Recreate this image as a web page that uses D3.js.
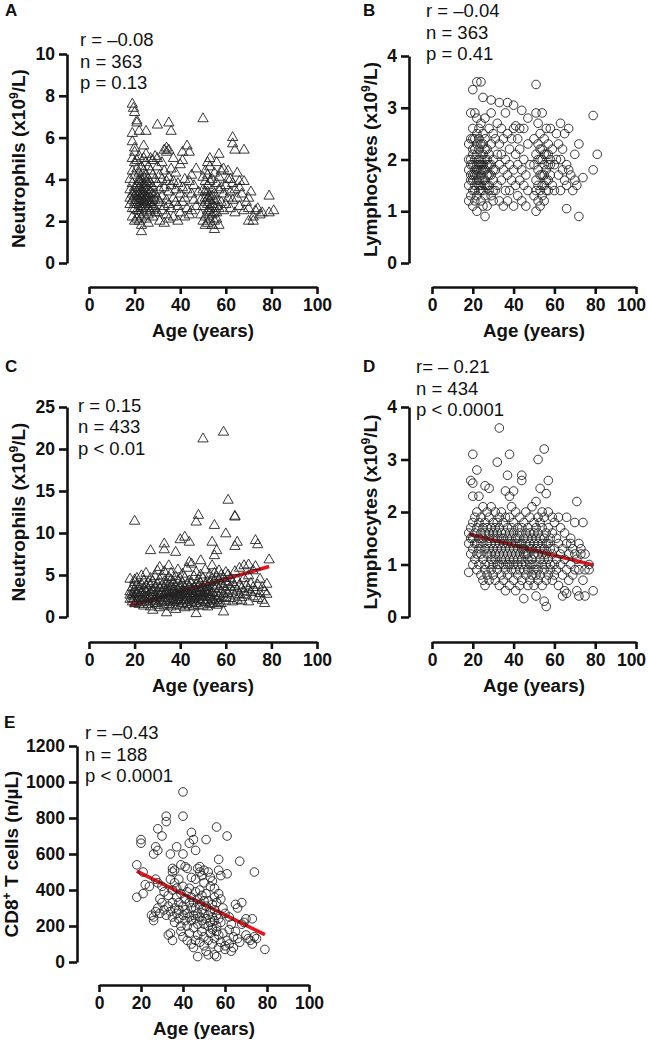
<!DOCTYPE html>
<html>
<head>
<meta charset="utf-8">
<script src="https://cdn.jsdelivr.net/npm/d3@7"></script>
<style>
body { margin: 0; background: #fff; }
text { font-family: "Liberation Sans", Arial, Helvetica, sans-serif; fill: #111; }
</style>
</head>
<body>
<script>
// tick labels
const ageTicks = [0, 20, 40, 60, 80, 100];
const neutroTicksA = [0, 2, 4, 6, 8, 10];
const lymphTicks = [0, 1, 2, 3, 4];
const neutroTicksC = [0, 5, 10, 15, 20, 25];
const cd8Ticks = [0, 200, 400, 600, 800, 1000, 1200];

// stats text per panel
const statsA = ['r = \u20130.08', 'n = 363', 'p = 0.13'];
const statsB = ['r = \u20130.04', 'n = 363', 'p = 0.41'];
const statsC = ['r = 0.15', 'n = 433', 'p < 0.01'];
const statsD = ['r= \u2013 0.21', 'n = 434', 'p < 0.0001'];
const statsE = ['r = \u20130.43', 'n = 188', 'p < 0.0001'];

// A: age vs neutrophils (x10^9/L)
const neutrophilsA = [
  [19,7.6],[19.5,7.4],[20,7.2],[21,6.8],[21,6.7],[22,6.3],[19,6.2],[25,6.3],[30,6.6],[35,6.7],[36,6.3],[50,6.9],
  [63,6.0],[63,5.7],[64,5.4],[68,5.4],[19,5.8],[20,5.5],[24,5.6],[33,5.4],[34,5.5],[35,5.4],[43,5.6],[44,5.3],
  [41,5.3],[57,5.2],[53,5.0],[52,4.8],[56,4.8],[59,4.5],[61,4.4],[65,4.3],[62,4.0],[66,3.9],[79,3.2],[79,2.4],
  [81,2.5],[75,2.3],[73,2.5],[70,2.0],[72,2.0],[69,2.9],[70,3.1],[23,1.5],[55,1.6],[54,1.8],[51,1.8],[57,1.8],
  [18,3.5],[18,2.8],[18,4.0],[18,3.1],[19,2.6],[19,3.3],[19,4.4],[19,5.0],[19,2.2],[19,3.8],[20,2.9],[20,3.6],
  [20,4.8],[20,2.0],[20,3.2],[20,4.2],[20,5.3],[21,2.5],[21,3.0],[21,3.7],[21,4.5],[21,2.1],[21,3.4],[21,4.9],
  [22,2.3],[22,2.8],[22,3.3],[22,3.9],[22,4.3],[22,5.1],[22,2.0],[22,3.6],[23,2.6],[23,3.1],[23,3.5],[23,4.0],
  [23,4.6],[23,2.2],[23,2.9],[23,1.8],[24,2.4],[24,3.0],[24,3.4],[24,3.8],[24,4.4],[24,5.0],[24,2.7],[24,4.1],
  [25,2.1],[25,2.6],[25,3.2],[25,3.7],[25,4.2],[25,4.8],[25,3.0],[25,5.2],[26,2.3],[26,2.9],[26,3.5],[26,4.0],
  [26,4.6],[26,1.9],[26,3.3],[27,2.5],[27,3.1],[27,3.8],[27,4.4],[27,5.0],[27,2.8],[28,2.2],[28,3.0],[28,3.6],
  [28,4.2],[28,4.9],[29,2.6],[29,3.3],[29,4.0],[29,5.1],[30,2.4],[30,3.1],[30,3.8],[30,4.6],[30,5.0],
  [19,3.0],[20,3.4],[20,2.6],[21,3.2],[21,2.8],[22,3.0],[22,2.5],[22,4.0],[23,3.3],[23,3.8],[23,2.7],[24,3.2],
  [24,2.9],[24,3.6],[25,3.5],[25,2.8],[25,3.9],[26,3.1],[26,2.6],[26,3.8],[27,3.4],[27,2.9],[28,3.3],[28,2.7],
  [29,3.0],[29,2.4],
  [31,2.0],[31,2.9],[31,3.5],[31,4.2],[32,2.5],[32,3.2],[32,4.0],[32,4.8],[33,1.9],[33,2.7],[33,3.6],[33,4.4],
  [34,2.3],[34,3.0],[34,3.9],[34,5.3],[35,2.1],[35,2.8],[35,3.4],[35,4.1],[36,2.6],[36,3.7],[36,4.5],[37,2.2],
  [37,3.1],[37,3.9],[37,5.0],[38,2.9],[38,3.5],[38,4.3],[39,2.0],[39,2.7],[39,3.8],[40,2.4],[40,3.3],[40,4.7],
  [41,2.9],[41,3.6],[41,4.9],[42,2.2],[42,3.1],[42,4.0],[43,2.6],[43,3.5],[44,2.3],[44,3.9],[45,2.5],[45,3.3],
  [45,4.2],[46,3.0],[46,3.7],[47,2.7],[47,4.5],[48,3.4],
  [49,2.3],[49,3.0],[50,2.0],[50,2.7],[50,3.5],[50,4.1],[51,2.2],[51,2.9],[51,3.4],[51,3.9],[51,4.4],[52,1.9],
  [52,2.5],[52,3.1],[52,3.7],[52,4.2],[53,2.1],[53,2.6],[53,3.2],[53,3.9],[53,4.6],[54,2.3],[54,2.8],[54,3.5],
  [54,4.0],[55,2.0],[55,2.7],[55,3.3],[55,4.3],[56,2.4],[56,3.0],[56,3.8],[56,2.1],[57,2.6],[57,3.5],[57,4.1],
  [58,2.9],[58,3.6],[58,4.4],
  [51,3.1],[52,2.8],[52,3.4],[53,2.4],[53,3.0],[54,2.6],[54,3.2],[55,2.4],[55,3.0],[56,2.7],
  [59,2.5],[59,3.3],[60,3.7],[60,2.8],[61,3.1],[61,4.0],[62,2.6],[62,3.4],[63,3.0],[63,3.8],[64,2.4],[64,3.5],
  [65,3.1],[66,2.7],[66,3.6],[67,3.3],[68,2.5],[68,3.9],[70,2.6],[71,3.4],[72,2.2],[74,2.6],[76,2.4]
];

// B: age vs lymphocytes (x10^9/L)
const lymphocytesB = [
  [20,3.35],[22,3.5],[24,3.5],[25,3.2],[51,3.45],[79,2.85],[81,2.1],[79,1.8],[72,0.9],[66,1.05],[26,0.9],
  [29,3.15],[33,3.1],[37,3.1],[40,3.05],[44,2.95],[43,2.6],[41,2.65],[47,2.8],
  [18,1.8],[18,2.3],[18,1.5],[19,2.0],[19,1.3],[19,2.4],[19,1.7],[19,2.9],[20,1.9],[20,2.2],[20,1.4],[20,1.1],
  [20,2.6],[20,1.6],[21,2.0],[21,1.8],[21,2.4],[21,1.2],[21,1.5],[21,2.9],[22,1.7],[22,2.1],[22,1.3],[22,2.3],
  [22,1.9],[22,1.0],[22,2.8],[23,1.6],[23,2.0],[23,2.4],[23,1.4],[23,1.8],[23,2.2],[24,1.5],[24,1.9],[24,2.3],
  [24,1.2],[24,2.7],[24,1.7],[25,1.8],[25,2.1],[25,1.4],[25,2.5],[25,1.1],[26,1.6],[26,2.0],[26,2.4],[26,1.3],
  [26,2.8],[27,1.9],[27,1.5],[27,2.2],[27,1.1],[28,1.7],[28,2.1],[28,2.6],[28,1.4],[29,1.9],[29,2.3],[29,1.3],
  [29,2.9],[30,1.6],[30,2.0],[30,2.5],[30,1.2],
  [18,2.0],[18,1.2],[19,1.9],[19,1.6],[20,2.1],[20,1.7],[20,2.4],[21,1.7],[21,2.2],[21,1.4],[22,1.6],[22,2.5],
  [22,1.8],[23,1.9],[23,1.5],[23,2.6],[24,2.0],[24,1.4],[24,1.8],[25,1.6],[25,2.3],[25,1.9],[26,1.8],[26,1.5],
  [26,2.2],[27,1.7],[27,2.0],[28,1.9],[28,1.5],[29,1.7],[30,1.8],[30,1.4],
  [31,1.8],[31,2.4],[31,1.4],[32,2.1],[32,1.5],[32,2.7],[33,1.2],[33,1.9],[33,2.3],[34,1.6],[34,2.1],[34,2.6],
  [35,1.1],[35,1.8],[35,2.4],[36,1.4],[36,2.0],[36,2.9],[37,1.2],[37,1.7],[37,2.5],[38,1.9],[38,1.4],[38,2.2],
  [39,1.6],[39,2.4],[40,1.1],[40,1.8],[40,2.6],[41,1.5],[41,2.1],[42,1.3],[42,1.9],[42,2.4],[43,1.6],[43,2.2],
  [44,1.2],[44,1.8],[45,1.5],[45,2.0],[45,2.6],[46,1.1],[46,1.7],[47,2.3],[47,1.4],[48,1.9],
  [50,1.3],[50,1.9],[50,2.4],[51,1.0],[51,1.6],[51,2.1],[51,2.9],[52,1.2],[52,1.5],[52,1.8],[52,2.3],[52,2.7],
  [53,1.4],[53,2.0],[53,2.5],[53,1.1],[54,1.3],[54,1.7],[54,2.2],[54,2.9],[55,1.5],[55,1.9],[55,2.4],[55,1.2],
  [56,1.6],[56,2.1],[56,2.6],[57,1.4],[57,1.9],[57,2.3],[58,1.7],[58,2.0],[58,2.6],
  [51,1.4],[52,2.0],[53,1.7],[53,2.2],[54,1.5],[54,2.0],[55,1.7],[55,2.1],[56,1.8],[56,1.4],[57,2.1],[57,1.6],
  [58,1.9],
  [59,1.5],[59,2.2],[60,1.9],[60,1.4],[61,2.0],[61,2.5],[62,1.7],[62,2.3],[63,1.4],[63,2.0],[63,2.7],[64,1.8],
  [64,2.2],[65,1.6],[65,2.5],[66,1.9],[66,1.5],[67,1.8],[67,2.6],[68,1.7],[69,1.4],[70,1.6],[70,2.1],[71,1.5],
  [72,2.3],[74,1.65]
];

// C: age vs neutrophils, grouped by age [age, [values]]
const neutrophilsC = [
  [18,[2.1,3.0,4.5,2.6]],[19,[1.8,2.7,3.5,2.2]],[20,[2.4,3.3,4.1,1.6,2.9,11.4,4.4]],[21,[1.9,2.8,3.8,4.6]],
  [22,[2.2,3.1,1.5,3.6,2.6]],[23,[2.9,1.7,3.9,4.9,2.3]],[24,[2.0,2.7,3.4,1.3,4.3]],[25,[3.1,2.4,1.8,3.7,5.2]],
  [26,[2.6,1.5,3.3,4.0,2.1]],[27,[2.2,2.9,3.8,1.2,4.6,7.9]],[28,[1.8,2.5,3.2,4.2,0.8,2.9]],[29,[2.4,3.5,1.6,4.8,2.0]],
  [30,[2.7,1.4,3.1,3.9,5.5,2.2]],[31,[1.9,2.6,3.4,4.4,1.1,5.9]],[32,[2.3,3.0,1.7,3.7,4.9,2.8]],
  [33,[2.0,2.7,3.5,1.3,4.2,5.4,8.7,8.0]],[34,[2.5,1.8,3.2,4.0,0.5,2.9]],[35,[2.2,3.0,1.5,3.8,4.7,2.6,6.1]],
  [36,[1.9,2.8,3.6,1.2,4.4,5.2]],[37,[2.4,3.3,1.7,4.1,2.0,2.9]],[38,[2.1,2.7,3.5,1.4,4.8,3.0,0.9,7.7]],
  [39,[2.6,1.9,3.2,4.3,5.6,2.3]],[40,[2.0,2.9,3.7,1.3,4.5,2.5,3.3,9.2]],[41,[2.3,3.1,1.6,4.0,5.1,2.7]],
  [42,[1.8,2.6,3.4,1.1,4.6,3.0,9.5]],[43,[2.4,3.2,1.5,3.9,5.8,2.1,2.8]],[44,[2.0,2.8,3.6,1.3,4.3,6.5,8.9]],
  [45,[2.5,3.3,1.7,4.1,2.2,3.0,6.3]],[46,[1.9,2.7,3.5,1.2,4.8,2.4]],[47,[2.3,3.1,1.6,3.8,5.3,0.4,2.8,11.3]],
  [48,[2.1,2.9,3.7,1.4,4.4,2.5,12.1]],[49,[2.6,3.4,1.8,4.0,5.0,3.0,6.7]],[50,[2.0,2.8,3.5,1.3,4.6,2.4,21.2]],
  [51,[2.4,3.2,1.7,3.9,5.6,2.9]],[52,[1.9,2.7,3.6,1.2,4.2,3.1]],[53,[2.3,3.0,1.5,4.1,5.0,2.6]],
  [54,[2.1,2.9,3.8,1.6,4.5,6.1,8.9]],[55,[2.5,3.4,1.9,4.3,5.2,7.3,10.9]],[56,[2.0,2.8,3.6,1.4,4.8,7.9]],
  [57,[2.4,3.3,4.4,1.7,5.5]],[58,[2.2,3.0,3.9,5.0,1.6]],[59,[2.7,3.6,4.6,0.6,22.0]],[60,[2.3,3.2,4.2,5.3,1.9,9.9]],
  [61,[2.8,3.9,5.0,13.9]],[62,[2.2,3.5,4.6]],[63,[3.0,4.1,1.8]],[64,[2.5,3.6,5.4,11.9,12.0,8.4]],
  [65,[3.2,2.0,4.4,8.9]],[66,[2.7,3.8,5.8]],[67,[2.3,3.4,1.9]],[68,[3.0,4.6,6.1]],[69,[2.6,3.7]],
  [70,[1.8,3.3,4.9,6.2]],[71,[2.9,4.0]],[72,[2.4,3.5,5.5]],[73,[3.1,6.0,9.1]],[74,[2.2,3.8,8.6]],
  [75,[2.8,4.5]],[76,[3.5,2.0]],[77,[1.6,3.0]],[78,[2.7,3.9]],[79,[6.8]]
];

// D: age vs lymphocytes, grouped by age
const lymphocytesD = [
  [18,[1.4,1.6,0.85]],[19,[1.2,1.5,1.7,2.6]],[20,[1.0,1.3,1.8,1.5,3.1,2.55,2.3]],[21,[1.4,1.1,1.9,1.6]],
  [22,[1.2,0.9,1.7,1.4,2.0,2.8]],[23,[1.5,1.0,1.3,1.8,2.3]],[24,[0.8,1.2,1.6,1.4,1.9]],[25,[1.1,1.5,1.7,0.7,2.1]],
  [26,[1.3,0.9,1.8,1.0,1.6,0.6,2.5]],[27,[1.4,1.2,1.7,0.8,2.0]],[28,[1.0,1.5,1.3,1.9,0.7,1.6,2.45]],
  [29,[1.2,0.9,1.7,1.4,1.1,2.1]],[30,[1.5,1.0,1.8,1.3,0.8,1.6]],[31,[1.1,1.4,0.7,1.7,1.2,2.0]],
  [32,[1.3,0.9,1.6,1.0,1.5,1.8,2.95]],[33,[1.2,1.4,0.6,1.7,1.0,1.9,3.6]],[34,[1.5,1.1,0.8,1.3,1.6,2.0]],
  [35,[1.0,1.4,1.2,0.7,1.8,1.5]],[36,[1.3,0.9,1.6,1.1,1.9,0.5,2.4]],[37,[1.2,1.5,0.8,1.4,1.7,1.0,2.7]],
  [38,[1.0,1.3,1.6,0.6,1.9,1.1,3.1,2.3]],[39,[1.4,0.9,1.2,1.7,1.5,2.1]],[40,[1.1,1.3,0.7,1.6,1.0,1.8,2.4]],
  [41,[1.2,1.5,0.9,1.4,2.0,0.5]],[42,[1.0,1.3,1.7,0.8,1.5,1.1]],[43,[1.2,0.9,1.6,1.4,1.9,0.6]],
  [44,[1.1,1.4,0.7,1.3,1.7,1.0,2.7,2.6]],[45,[1.3,0.9,1.5,1.2,1.8,0.35]],[46,[1.0,1.4,1.6,0.8,1.2,2.0]],
  [47,[1.2,0.9,1.5,1.1,1.7,0.6]],[48,[1.4,1.0,1.3,0.7,1.9,1.6]],[49,[1.1,1.3,0.8,1.5,1.0,2.1]],
  [50,[1.2,0.9,1.6,1.4,0.6,1.8]],[51,[1.0,1.3,1.7,0.8,1.5,2.2,0.4]],[52,[1.2,0.9,1.4,1.6,0.7,1.9,3.0]],
  [53,[1.1,1.3,0.8,1.5,1.8,2.45]],[54,[1.0,1.4,0.6,1.2,1.7,2.0]],[55,[1.3,0.9,1.5,1.1,1.9,3.2,0.3]],
  [56,[1.0,1.2,0.7,1.6,1.4,2.35,0.2]],[57,[1.1,0.8,1.4,1.7,2.0,2.6]],[58,[1.3,0.9,1.5,1.0]],[59,[1.2,0.7,1.6,1.9]],
  [60,[1.0,1.3,0.8,1.8]],[61,[1.1,1.5,0.9]],[62,[1.4,0.6,1.9]],[63,[1.0,1.2,1.7]],[64,[0.8,1.3,0.4]],
  [65,[1.1,1.6,0.5]],[66,[1.4,0.9,1.9,0.45]],[67,[1.2,0.7]],[68,[1.0,1.5,1.4]],[69,[0.8,1.3]],[70,[1.2,0.9,1.8]],
  [71,[1.1,0.5,2.2]],[72,[1.4,0.9,0.4]],[73,[1.2,1.3]],[74,[0.7,1.8]],[75,[0.9,1.2,0.4]],[77,[0.9,1.0]],[79,[0.5]]
];

// E: age vs CD8+ T cells (n/uL)
const cd8E = [
  [18,540],[18,360],[20,680],[20,660],[21,380],[21,500],[26,600],[27,640],[28,740],[28,620],[30,700],[32,780],
  [32,810],[34,600],[35,500],[35,520],[36,510],[37,640],[39,540],[40,945],[40,810],[40,600],[41,530],[42,520],
  [43,660],[44,720],[45,680],[46,620],[47,520],[48,500],[48,530],[49,480],[50,510],[51,680],[52,500],[53,470],
  [54,450],[56,750],[57,570],[57,510],[58,480],[61,700],[61,490],[67,560],[74,500],[44,470],[46,460],[50,440],
  [55,410],[38,460],[36,440],
  [22,430],[24,420],[25,260],[26,230],[26,250],[27,280],[27,460],[28,300],[28,440],[29,350],[29,270],[30,330],
  [30,420],[31,390],[31,290],[32,260],[33,310],[33,370],[34,280],[34,460],[35,250],[35,330],[35,400],[36,300],
  [36,220],[37,270],[37,360],[37,410],[38,290],[38,240],[38,330],[39,200],[39,380],[40,260],[40,310],[40,420],
  [41,230],[41,350],[41,290],[42,270],[42,390],[42,200],[43,250],[43,330],[43,410],[44,230],[44,300],[44,360],
  [45,260],[45,190],[45,330],[46,240],[46,300],[46,390],[47,210],[47,350],[47,270],[48,250],[48,320],[48,400],
  [49,230],[49,290],[49,370],[50,210],[50,270],[50,340],[51,240],[51,310],[51,380],[52,260],[52,200],[52,340],
  [53,220],[53,280],[53,420],[54,250],[54,190],[54,320],[55,230],[55,290],[55,360],[56,260],[56,200],[56,330],
  [57,240],[57,380],[58,220],[58,350],[59,300],[60,270],[62,250],[63,210],[65,320],[66,300],[68,330],[69,220],
  [70,240],[73,240],[62,180],
  [33,150],[34,160],[35,120],[39,170],[40,140],[42,120],[43,160],[44,100],[45,80],[46,120],[47,30],[47,150],
  [48,110],[49,170],[50,90],[50,140],[51,60],[52,40],[52,120],[53,160],[54,100],[54,180],[55,40],[55,130],
  [56,30],[56,170],[57,150],[57,80],[58,110],[59,160],[60,70],[60,90],[61,120],[62,100],[63,60],[64,140],
  [64,80],[65,170],[66,130],[67,110],[68,210],[70,150],[71,130],[72,120],[73,100],[74,140],[75,130],[79,70]
];

// regression lines (end points)
const fitC = [[18, 1.35], [79, 6.0]];
const fitD = [[18, 1.58], [79, 0.99]];
const fitE = [[18, 505], [79, 152]];

const flatten = groups => groups.flatMap(([age, vals]) => vals.map(v => [age, v]));

const svg = d3.select('body')
  .append('svg')
  .attr('width', 648)
  .attr('height', 1043);

const panels = [
  { letter: 'A', lx: 5, ly: 16, stats: statsA, sx: 80, sy: 46, data: neutrophilsA, marker: 'tri',
    xr: [89, 317], ya: 287, yx: 67, yr: [263, 54], yd: [0, 10], yt: neutroTicksA, tx: 25,
    title: ['Neutrophils (x10', '9', '/L)'] },
  { letter: 'B', lx: 363, ly: 16, stats: statsB, sx: 426, sy: 17, data: lymphocytesB, marker: 'circle',
    xr: [432, 636], ya: 287, yx: 409, yr: [263, 56], yd: [0, 4], yt: lymphTicks, tx: 377,
    title: ['Lymphocytes (x10', '9', '/L)'] },
  { letter: 'C', lx: 5, ly: 372, stats: statsC, sx: 78, sy: 411.5, data: flatten(neutrophilsC), marker: 'tri',
    xr: [89, 317], ya: 642, yx: 67, yr: [617, 407], yd: [0, 25], yt: neutroTicksC, tx: 25, fit: fitC,
    title: ['Neutrophils (x10', '9', '/L)'] },
  { letter: 'D', lx: 363, ly: 372, stats: statsD, sx: 416, sy: 373, data: flatten(lymphocytesD), marker: 'circle',
    xr: [432, 636], ya: 642, yx: 409, yr: [617, 407], yd: [0, 4], yt: lymphTicks, tx: 377, fit: fitD,
    title: ['Lymphocytes (x10', '9', '/L)'] },
  { letter: 'E', lx: 4, ly: 728, stats: statsE, sx: 85, sy: 739, data: cd8E, marker: 'circle',
    xr: [99, 309], ya: 985, yx: 77, yr: [962, 746], yd: [0, 1200], yt: cd8Ticks, tx: 18, fit: fitE,
    title: ['CD8', '+', ' T cells (n/\u00b5L)'] }
];

panels.forEach(p => {
  const x = d3.scaleLinear().domain([0, 100]).range(p.xr);
  const y = d3.scaleLinear().domain(p.yd).range(p.yr);
  const g = svg.append('g');

  // axes
  const xAxis = g.append('g')
    .attr('transform', `translate(0,${p.ya})`)
    .call(d3.axisBottom(x).tickValues(ageTicks).tickFormat(d3.format('d'))
      .tickSize(7).tickSizeOuter(0).tickPadding(5));
  const yAxis = g.append('g')
    .attr('transform', `translate(${p.yx},0)`)
    .call(d3.axisLeft(y).tickValues(p.yt).tickFormat(d3.format('d'))
      .tickSize(8).tickSizeOuter(0).tickPadding(4));
  [xAxis, yAxis].forEach(a => {
    a.select('.domain').attr('stroke', '#111').attr('stroke-width', 2.6);
    a.selectAll('.tick line').attr('stroke', '#111').attr('stroke-width', 2.6);
    a.selectAll('.tick text')
      .style('font-family', '"Liberation Sans", Arial, sans-serif')
      .style('font-size', '17.5px')
      .style('font-weight', 'bold')
      .attr('fill', '#111');
  });
  // last age label is pulled in at the page edge
  if (p.xr[1] > 600) {
    xAxis.selectAll('.tick text').filter(d => d === 100).attr('dx', -5);
  }

  // axis titles
  g.append('text')
    .attr('x', (p.xr[0] + p.xr[1]) / 2)
    .attr('y', p.ya + 50)
    .attr('text-anchor', 'middle')
    .style('font-size', '18.7px')
    .style('font-weight', 'bold')
    .text('Age (years)');

  const yt = g.append('text')
    .attr('transform', `translate(${p.tx},${(p.yr[0] + p.yr[1]) / 2}) rotate(-90)`)
    .attr('text-anchor', 'middle')
    .style('font-size', '19px')
    .style('font-weight', 'bold');
  yt.append('tspan').text(p.title[0]);
  yt.append('tspan').attr('dy', -7.5).style('font-size', '12px').text(p.title[1]);
  yt.append('tspan').attr('dy', 7.5).text(p.title[2]);

  // panel letter and stats
  g.append('text')
    .attr('x', p.lx).attr('y', p.ly)
    .style('font-size', '17px')
    .style('font-weight', 'bold')
    .text(p.letter);

  g.selectAll('.stat')
    .data(p.stats)
    .enter().append('text')
    .attr('x', p.sx)
    .attr('y', (d, i) => p.sy + i * 21.7)
    .style('font-size', '18.5px')
    .text(d => d);

  // regression line under the markers
  if (p.fit) {
    g.append('path')
      .attr('d', d3.line().x(d => x(d[0])).y(d => y(d[1]))(p.fit))
      .attr('stroke', '#e8141c')
      .attr('stroke-width', 3.6)
      .attr('fill', 'none');
  }

  // markers
  if (p.marker === 'tri') {
    const tri = d3.symbol(d3.symbolTriangle, 46);
    g.append('g').selectAll('path')
      .data(p.data)
      .enter().append('path')
      .attr('d', tri)
      .attr('transform', d => `translate(${x(d[0])},${y(d[1])})`)
      .attr('fill', 'none')
      .attr('stroke', '#222')
      .attr('stroke-width', 0.9);
  } else {
    g.append('g').selectAll('circle')
      .data(p.data)
      .enter().append('circle')
      .attr('cx', d => x(d[0]))
      .attr('cy', d => y(d[1]))
      .attr('r', 4.3)
      .attr('fill', 'none')
      .attr('stroke', '#222')
      .attr('stroke-width', 0.9);
  }
});
</script>
</body>
</html>
